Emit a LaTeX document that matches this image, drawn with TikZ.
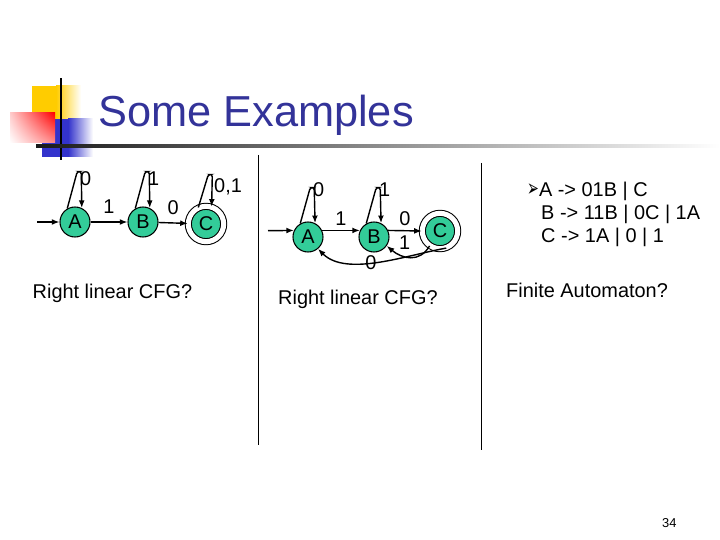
\documentclass[tikz,border=0pt]{standalone}
\usepackage{fontspec}
\setmainfont{Liberation Sans}
\newfontfamily\dingfont{DejaVu Sans}
\usetikzlibrary{arrows.meta,shadings}
\definecolor{stategreen}{HTML}{33CC99}
\definecolor{titleblue}{HTML}{333399}
\definecolor{decoyellow}{HTML}{FFCC00}
\definecolor{decored}{HTML}{FF0000}
\definecolor{decoblue}{HTML}{3333CC}
\newcommand{\lblsize}{\fontsize{17}{20}\selectfont}

\begin{document}
\begin{tikzpicture}[x=0.03cm,y=0.03cm,
      state/.style={circle,draw,line width=0.9pt,fill=stategreen,minimum size=0.9cm,inner sep=0pt,font=\lblsize},
      final/.style={state,minimum size=1.06cm,double,double distance=0.15cm},
      arr/.style={-{Latex[length=6.5pt,width=5pt]},line width=1.2pt},
      lbl/.style={inner sep=1pt,font=\lblsize},
      txt/.style={anchor=base west,inner sep=0pt,font=\lblsize}]
    \useasboundingbox (0,0) rectangle (720,-540);
    % title decoration
    \fill[decoyellow] (32,-86) rectangle (56,-119);
    \shade[left color=decoyellow,right color=white] (56,-86) rectangle (81,-119);
    \fill[decoblue] (42,-119) rectangle (68,-157);
    \shade[left color=decoblue,right color=white] (68,-119) rectangle (93,-157);
    \shade[upper right=decored,upper left=decored!20,lower right=decored!45,lower left=white] (10,-113) rectangle (55,-143);
    \fill[black] (59.7,-78) rectangle (62.3,-160);
    \shade[left color=black!90,right color=white] (36,-144.3) rectangle (720,-147.3);
    \node[txt,font=\fontsize{37}{44}\selectfont,text=titleblue] (title) at (98,-127) {Some Examples};

    % left automaton
    \node[state] (lA) at (75,-222) {A};
    \node[state] (lB) at (143,-222) {B};
    \node[final] (lC) at (206,-224) {C};
    \coordinate (lIn) at (37,-222);
    \draw[arr] (lIn) -- (lA);
    \draw[arr] (lA) -- node[lbl,above=5.5pt] {1} (lB);
    \draw[arr] (lB) -- node[lbl,above=5.5pt] {0} (lC);
    \draw[arr,rounded corners=2pt] (lA.120) -- ++(10,37) -- ++(4,0) node[lbl,anchor=west,xshift=-0.09cm,yshift=-0.21cm] {0} -- (lA.64);
    \draw[arr,rounded corners=2pt] (lB.120) -- ++(10,37) -- ++(4,0) node[lbl,anchor=west,xshift=-0.09cm,yshift=-0.21cm] {1} -- (lB.64);
    \draw[arr,rounded corners=2pt] (lC.115) -- ++(10,33) -- ++(4,0) node[lbl,anchor=west,yshift=-0.36cm] {0,1} -- (lC.72);
    \node[txt] (cfgL) at (32.5,-299) {Right linear CFG?};

    \draw[line width=0.8pt] (258,-155) -- (258,-445);

    % right automaton
    \node[state] (rA) at (308,-237) {A};
    \node[state] (rB) at (374,-237) {B};
    \node[final] (rC) at (440,-231) {C};
    \coordinate (rIn) at (268,-230.7);
    \draw[arr] (rIn) -- (rA.155);
    \draw[arr] (rA.25) -- node[lbl,above=3pt] {1} (rB.155);
    \draw[arr] (rB.25) -- node[lbl,above=3pt] {0} (rC.west);
    \draw[arr,rounded corners=2pt] (rA.120) -- ++(10,36) -- ++(4,0) node[lbl,anchor=west,xshift=-0.09cm,yshift=-0.06cm] {0} -- (rA.63);
    \draw[arr,rounded corners=2pt] (rB.120) -- ++(10,36) -- ++(4,0) node[lbl,anchor=west,xshift=-0.09cm,yshift=-0.06cm] {1} -- (rB.63);
    \draw[arr] (rC.235) to[out=240,in=-40,looseness=1.2] node[lbl,above=4pt,pos=0.62] {1} (rB.-35);
    \draw[arr] (rC.290) to[out=190,in=-45,looseness=0.8] node[lbl,pos=0.55] {0} (rA.-50);
    \node[txt] (cfgR) at (278,-305) {Right linear CFG?};

    \draw[line width=0.8pt] (481,-163) -- (481,-450);

    % grammar
    \node[txt] (g1) at (527,-197) {{\dingfont\fontsize{12}{14}\selectfont\scalebox{1}[1.7]{➢}}A -> 01B | C};
    \node[txt] (g2) at (541,-220) {B -> 11B | 0C | 1A};
    \node[txt] (g3) at (541,-243) {C -> 1A | 0 | 1};
    \node[txt] (faQ) at (506,-298) {Finite Automaton?};

    \node[txt,font=\fontsize{11}{13}\selectfont] (pgno) at (662,-527) {34};
  \end{tikzpicture}
\end{document}
